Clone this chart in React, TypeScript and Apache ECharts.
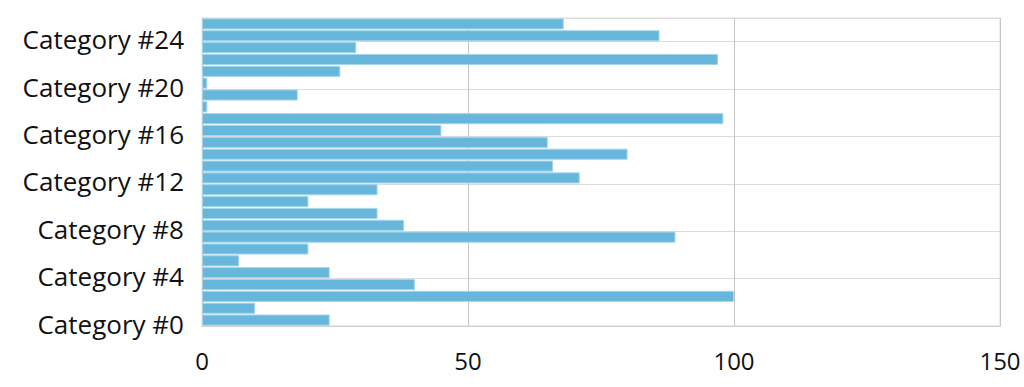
import React, { useEffect, useRef } from "react";
import * as echarts from "echarts";

const categories: string[] = Array.from({ length: 26 }, (_, i) => `Category #${i}`);
const values: number[] = [24, 10, 100, 40, 24, 7, 20, 89, 38, 33, 20, 33, 71, 66, 80, 65, 45, 98, 1, 18, 1, 26, 97, 29, 86, 68];
const xMin = 0;
const xMax = 150;
const xInterval = 50;

const FONT = "'Open Sans', 'Noto Sans', sans-serif";

export default function App() {
  const ref = useRef<HTMLDivElement>(null);
  useEffect(() => {
    if (!ref.current) return;
    const chart = echarts.init(ref.current, undefined, { renderer: "svg" });
    chart.setOption({
      animation: false,
      grid: {
        left: 202,
        right: 24,
        top: 18,
        bottom: 61,
        show: true,
        borderColor: "#dcdcdc",
        borderWidth: 1,
        backgroundColor: "transparent",
      },
      xAxis: {
        type: "value",
        min: xMin,
        max: xMax,
        interval: xInterval,
        axisLine: { show: true, lineStyle: { color: "#cfcfcf" } },
        axisTick: { show: false },
        splitLine: { show: true, lineStyle: { color: "#c6c6c6", width: 1 } },
        axisLabel: { color: "#111", fontSize: 24, fontFamily: FONT, margin: 22 },
      },
      yAxis: {
        type: "category",
        data: categories,
        axisLine: { show: true, lineStyle: { color: "#cfcfcf" } },
        axisTick: { show: false },
        splitLine: { show: true, interval: 3, lineStyle: { color: "#dcdcdc", width: 1 } },
        axisLabel: {
          interval: 3,
          color: "#111",
          fontSize: 26,
          fontFamily: FONT,
          margin: 18,
          formatter: (v: string) => `{a|${v}}`,
          rich: { a: { color: "#111", fontSize: 26, fontFamily: FONT, padding: [7, 0, 0, 0] } },
        },
      },
      series: [
        {
          type: "bar",
          data: values,
          barCategoryGap: "6%",
          itemStyle: { color: "#67b7dc", borderColor: "#a6d5eb", borderWidth: 1 },
        },
      ],
    });
    return () => chart.dispose();
  }, []);
  return <div ref={ref} style={{ position: "absolute", left: 0, top: 0, width: 1024, height: 387 }} />;
}
